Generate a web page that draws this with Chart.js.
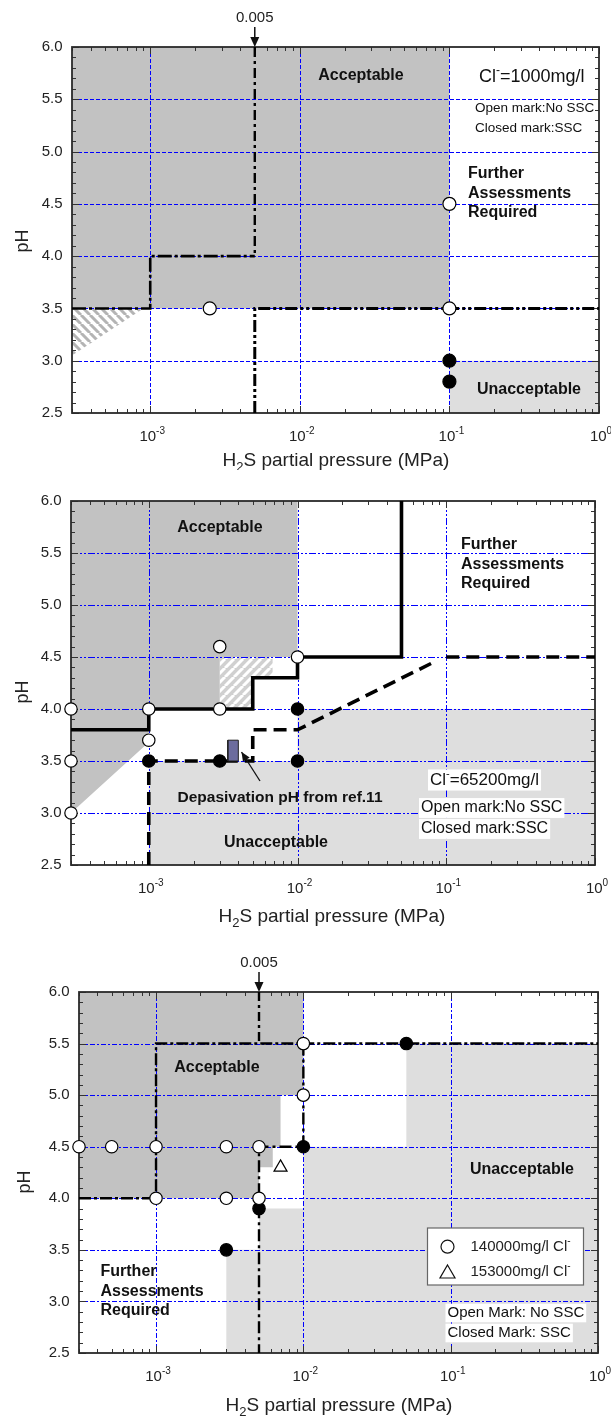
<!DOCTYPE html>
<html>
<head>
<meta charset="utf-8">
<script src="https://cdn.jsdelivr.net/npm/chart.js@4.4.0/dist/chart.umd.min.js"></script>
<style>
html, body { margin: 0; padding: 0; background: #fff; }
#wrap { position: relative; width: 611px; height: 1418px; overflow: hidden; }
canvas { position: absolute; left: 0; }
</style>
</head>
<body>
<div id="wrap">
  <canvas id="c1" width="611" height="470" style="top:0px"></canvas>
  <canvas id="c2" width="611" height="470" style="top:470px"></canvas>
  <canvas id="c3" width="611" height="478" style="top:940px"></canvas>
</div>
<script>
// Axis ticks shared by the three panels
const xDecades = [-3, -2, -1, 0];
const yTicks = [2.5, 3.0, 3.5, 4.0, 4.5, 5.0, 5.5, 6.0];
const yGrid = [3.0, 3.5, 4.0, 4.5, 5.0, 5.5];
const xGrid = [1e-3, 1e-2, 1e-1];

// Panel 1: Cl- = 1000 mg/l
const c1Open = [{x: 0.0025, y: 3.5}, {x: 0.1, y: 4.5}, {x: 0.1, y: 3.5}];
const c1Closed = [{x: 0.1, y: 3.0}, {x: 0.1, y: 2.8}];
const c1Upper = [{x: 3e-4, y: 3.5}, {x: 1e-3, y: 3.5}, {x: 1e-3, y: 4.0}, {x: 5e-3, y: 4.0}];
const c1Vert = [{x: 5e-3, y: 6.0}, {x: 5e-3, y: 4.0}];
const c1Lower = [{x: 5e-3, y: 2.5}, {x: 5e-3, y: 3.5}, {x: 1, y: 3.5}];
const c1Accept = [{x: 3e-4, y: 3.5}, {x: 0.1, y: 3.5}, {x: 0.1, y: 6.0}, {x: 3e-4, y: 6.0}];
const c1Unaccept = [{x: 0.1, y: 2.5}, {x: 1, y: 2.5}, {x: 1, y: 3.0}, {x: 0.1, y: 3.0}];
const c1Hatch = [{x: 3e-4, y: 3.5}, {x: 9e-4, y: 3.5}, {x: 3e-4, y: 3.05}];

// Panel 2: Cl- = 65200 mg/l
const c2Open = [{x: 3e-4, y: 4.0}, {x: 1e-3, y: 4.0}, {x: 3e-3, y: 4.0}, {x: 3e-3, y: 4.6},
  {x: 1e-2, y: 4.5}, {x: 1e-3, y: 3.7}, {x: 3e-4, y: 3.5}, {x: 3e-4, y: 3.0}];
const c2Closed = [{x: 1e-3, y: 3.5}, {x: 3e-3, y: 3.5}, {x: 1e-2, y: 3.5}, {x: 1e-2, y: 4.0}];
const c2Solid = [{x: 3e-4, y: 3.8}, {x: 1e-3, y: 3.8}, {x: 1e-3, y: 4.0}, {x: 5e-3, y: 4.0},
  {x: 5e-3, y: 4.3}, {x: 1e-2, y: 4.3}, {x: 1e-2, y: 4.5}, {x: 5e-2, y: 4.5}, {x: 5e-2, y: 6.0}];
const c2Dashed = [{x: 1e-3, y: 2.5}, {x: 1e-3, y: 3.5}, {x: 5e-3, y: 3.5}, {x: 5e-3, y: 3.8},
  {x: 1e-2, y: 3.8}, {x: 0.085, y: 4.46}];
const c2DashedRight = [{x: 0.1, y: 4.5}, {x: 1, y: 4.5}];
const c2Accept = [{x: 3e-4, y: 6.0}, {x: 1e-2, y: 6.0}, {x: 1e-2, y: 4.5}, {x: 3e-3, y: 4.5},
  {x: 3e-3, y: 4.0}, {x: 1e-3, y: 4.0}, {x: 1e-3, y: 3.68}, {x: 3e-4, y: 3.0}];
const c2Unaccept = [{x: 1e-3, y: 2.5}, {x: 1e-3, y: 3.5}, {x: 1e-2, y: 3.5}, {x: 1e-2, y: 4.0},
  {x: 1, y: 4.0}, {x: 1, y: 2.5}];
const c2Hatch = [{x: 3e-3, y: 4.0}, {x: 5e-3, y: 4.0}, {x: 5e-3, y: 4.3}, {x: 6.8e-3, y: 4.3},
  {x: 6.8e-3, y: 4.5}, {x: 3e-3, y: 4.5}];
const c2Depass = [{x: 3.4e-3, y: 3.5}, {x: 4.0e-3, y: 3.5}, {x: 4.0e-3, y: 3.7}, {x: 3.4e-3, y: 3.7}, {x: 3.4e-3, y: 3.5}];

// Panel 3: Cl- = 140000 / 153000 mg/l
const c3Open = [{x: 3e-4, y: 4.5}, {x: 5e-4, y: 4.5}, {x: 1e-3, y: 4.5}, {x: 3e-3, y: 4.5},
  {x: 5e-3, y: 4.5}, {x: 1e-2, y: 5.5}, {x: 1e-2, y: 5.0}, {x: 1e-3, y: 4.0},
  {x: 3e-3, y: 4.0}, {x: 5e-3, y: 4.0}];
const c3Closed = [{x: 5e-2, y: 5.5}, {x: 1e-2, y: 4.5}, {x: 5e-3, y: 3.9}, {x: 3e-3, y: 3.5}];
const c3Triangle = [{x: 7e-3, y: 4.3}];
const c3Top = [{x: 5e-3, y: 6.0}, {x: 5e-3, y: 5.5}];
const c3Upper = [{x: 3e-4, y: 4.0}, {x: 1e-3, y: 4.0}, {x: 1e-3, y: 5.5}, {x: 1, y: 5.5}];
const c3Lower = [{x: 1e-2, y: 5.5}, {x: 1e-2, y: 4.5}, {x: 5e-3, y: 4.5}, {x: 5e-3, y: 2.5}];
const c3Accept = [{x: 3e-4, y: 6.0}, {x: 1e-2, y: 6.0}, {x: 1e-2, y: 5.0}, {x: 7e-3, y: 5.0},
  {x: 7e-3, y: 4.5}, {x: 6.2e-3, y: 4.5}, {x: 6.2e-3, y: 4.3}, {x: 5e-3, y: 4.3},
  {x: 5e-3, y: 4.0}, {x: 3e-4, y: 4.0}];
const c3Unaccept = [{x: 3e-3, y: 2.5}, {x: 3e-3, y: 3.5}, {x: 5e-3, y: 3.5}, {x: 5e-3, y: 3.9},
  {x: 1e-2, y: 3.9}, {x: 1e-2, y: 4.5}, {x: 5e-2, y: 4.5}, {x: 5e-2, y: 5.5},
  {x: 1, y: 5.5}, {x: 1, y: 2.5}];

const FONT = "'Liberation Sans', Arial, Helvetica, sans-serif";
const DARK = '#c2c2c2';
const LIGHT = '#dedede';

function stripes(ctx, bg, fg, dir, size, width) {
    const c = document.createElement('canvas');
    c.width = c.height = size;
    const g = c.getContext('2d');
    g.fillStyle = bg;
    g.fillRect(0, 0, size, size);
    g.strokeStyle = fg;
    g.lineWidth = width;
    g.beginPath();
    for (let k = -1; k <= 1; k++) {
        if (dir === '/') {
            g.moveTo(k * size, size); g.lineTo(k * size + size, 0);
        } else {
            g.moveTo(k * size, 0); g.lineTo(k * size + size, size);
        }
    }
    g.stroke();
    return ctx.createPattern(c, 'repeat');
}

// text with ^{sup} and _{sub} parts, y is the vertical middle
function drawRich(ctx, str, x, y, o) {
    const size = o.size || 15;
    const weight = o.bold ? 'bold ' : '';
    const parts = [];
    const re = /\^\{([^}]*)\}|_\{([^}]*)\}/g;
    let last = 0, m;
    while ((m = re.exec(str))) {
        if (m.index > last) parts.push({t: str.slice(last, m.index), k: 0});
        parts.push({t: m[1] !== undefined ? m[1] : m[2], k: m[1] !== undefined ? 1 : -1});
        last = re.lastIndex;
    }
    if (last < str.length) parts.push({t: str.slice(last), k: 0});
    const fontFor = p => weight + (p.k ? Math.round(size * 0.66) : size) + 'px ' + FONT;
    let w = 0;
    parts.forEach(p => { ctx.font = fontFor(p); p.w = ctx.measureText(p.t).width; w += p.w; });
    let sx = o.align === 'center' ? x - w / 2 : (o.align === 'right' ? x - w : x);
    if (o.bg) {
        ctx.fillStyle = o.bg;
        ctx.fillRect(sx - 2, y - size * 0.62, w + 4, size * 1.24);
    }
    ctx.fillStyle = o.color || '#111';
    ctx.textBaseline = 'middle';
    ctx.textAlign = 'left';
    parts.forEach(p => {
        ctx.font = fontFor(p);
        const dy = p.k === 1 ? -size * 0.36 : (p.k === -1 ? size * 0.32 : 0);
        ctx.fillText(p.t, sx, y + dy);
        sx += p.w;
    });
}

function arrowHead(ctx, tx, ty, fx, fy, len, half) {
    const a = Math.atan2(ty - fy, tx - fx);
    ctx.beginPath();
    ctx.moveTo(tx, ty);
    ctx.lineTo(tx - len * Math.cos(a) + half * Math.sin(a), ty - len * Math.sin(a) - half * Math.cos(a));
    ctx.lineTo(tx - len * Math.cos(a) - half * Math.sin(a), ty - len * Math.sin(a) + half * Math.cos(a));
    ctx.closePath();
    ctx.fill();
}

function drawFrame(chart, cfg) {
    const ctx = chart.ctx;
    const a = chart.chartArea;
    const xs = chart.scales.x, ys = chart.scales.y;
    ctx.save();
    // blue grid
    ctx.strokeStyle = '#0000ff';
    ctx.lineWidth = 1;
    ctx.setLineDash(cfg.gridDash);
    xGrid.forEach(v => {
        const px = Math.round(xs.getPixelForValue(v)) + 0.5;
        ctx.beginPath(); ctx.moveTo(px, a.top); ctx.lineTo(px, a.bottom); ctx.stroke();
    });
    yGrid.forEach(v => {
        const py = Math.round(ys.getPixelForValue(v)) + 0.5;
        ctx.beginPath(); ctx.moveTo(a.left, py); ctx.lineTo(a.right, py); ctx.stroke();
    });
    ctx.setLineDash([]);
    // ticks
    ctx.strokeStyle = '#333';
    ctx.lineWidth = 1;
    ctx.beginPath();
    for (let d = -4; d <= 0; d++) {
        for (let k = 1; k <= 9; k++) {
            const v = k * Math.pow(10, d);
            if (v < xs.min * 0.999 || v > xs.max * 1.001) continue;
            const px = Math.round(xs.getPixelForValue(v)) + 0.5;
            const len = k === 1 ? 7 : 4;
            ctx.moveTo(px, a.bottom); ctx.lineTo(px, a.bottom - len);
            ctx.moveTo(px, a.top); ctx.lineTo(px, a.top + len);
        }
    }
    for (let i = 25; i <= 60; i++) {
        const py = Math.round(ys.getPixelForValue(i / 10)) + 0.5;
        const len = i % 5 === 0 ? 7 : 4;
        ctx.moveTo(a.left, py); ctx.lineTo(a.left + len, py);
        ctx.moveTo(a.right, py); ctx.lineTo(a.right - len, py);
    }
    ctx.stroke();
    ctx.strokeStyle = '#2a2a2a';
    ctx.lineWidth = 1.8;
    ctx.strokeRect(a.left, a.top, a.right - a.left, a.bottom - a.top);
    // tick labels
    yTicks.forEach(v => {
        drawRich(ctx, v.toFixed(1), a.left - 9.5, ys.getPixelForValue(v), {size: 15, align: 'right', color: '#222'});
    });
    xDecades.forEach(d => {
        drawRich(ctx, '10^{' + d + '}', xs.getPixelForValue(Math.pow(10, d)) + 2, a.bottom + 24, {size: 15, align: 'center', color: '#222'});
    });
    ctx.restore();
}

function makeChart(id, cfg) {
    const canvas = document.getElementById(id);
    const ctx = canvas.getContext('2d');
    const datasets = cfg.build(ctx);
    const decor = {
        id: 'decor',
        afterDatasetDraw(chart, args) {
            if (chart.data.datasets[args.index].gridAfter) drawFrame(chart, cfg);
        },
        afterDraw(chart) {
            const c = chart.ctx;
            const a = chart.chartArea;
            const xs = chart.scales.x;
            c.save();
            cfg.texts.forEach(t => drawRich(c, t.s, t.x, t.y - cfg.top, t));
            // axis titles
            drawRich(c, 'H_{2}S partial pressure (MPa)', cfg.xTitle[0], cfg.xTitle[1] - cfg.top, {size: 19, align: 'center', color: '#222'});
            c.translate(cfg.yTitle[0], cfg.yTitle[1] - cfg.top);
            c.rotate(-Math.PI / 2);
            drawRich(c, 'pH', 0, 0, {size: 18, align: 'center', color: '#222'});
            c.setTransform(1, 0, 0, 1, 0, 0);
            c.fillStyle = '#111';
            c.strokeStyle = '#111';
            if (cfg.marker005) {
                const px = xs.getPixelForValue(0.005);
                drawRich(c, '0.005', px, cfg.marker005 - cfg.top, {size: 15, align: 'center', color: '#222'});
                c.lineWidth = 1.5;
                c.beginPath(); c.moveTo(px, cfg.marker005 - cfg.top + 9); c.lineTo(px, a.top - 6); c.stroke();
                c.fillStyle = '#111';
                arrowHead(c, px, a.top, px, a.top - 20, 10, 4.5);
            }
            if (cfg.pointer) {
                const p = cfg.pointer;
                c.lineWidth = 1.3;
                c.beginPath(); c.moveTo(p[0], p[1] - cfg.top); c.lineTo(p[2], p[3] - cfg.top); c.stroke();
                arrowHead(c, p[2], p[3] - cfg.top, p[0], p[1] - cfg.top, 9, 4);
            }
            if (cfg.legend) {
                const L = cfg.legend;
                c.fillStyle = '#fff';
                c.fillRect(L.x, L.y - cfg.top, L.w, L.h);
                c.strokeStyle = '#666';
                c.lineWidth = 1.2;
                c.strokeRect(L.x, L.y - cfg.top, L.w, L.h);
                L.items.forEach(it => {
                    const cy = it.y - cfg.top;
                    c.strokeStyle = '#111';
                    c.fillStyle = '#fff';
                    c.lineWidth = 1.2;
                    c.beginPath();
                    if (it.sym === 'circle') {
                        c.arc(L.sx, cy, 6.5, 0, Math.PI * 2);
                    } else {
                        c.moveTo(L.sx, cy - 7); c.lineTo(L.sx + 7.5, cy + 6); c.lineTo(L.sx - 7.5, cy + 6); c.closePath();
                    }
                    c.fill(); c.stroke();
                    drawRich(c, it.s, L.tx, cy, {size: 15, color: '#222'});
                });
            }
            c.restore();
        }
    };
    return new Chart(ctx, {
        type: 'scatter',
        data: {datasets},
        options: {
            responsive: false,
            animation: false,
            events: [],
            layout: {padding: cfg.pad},
            plugins: {legend: {display: false}, tooltip: {enabled: false}},
            scales: {
                x: {type: 'logarithmic', min: 3e-4, max: 1, display: false},
                y: {type: 'linear', min: 2.5, max: 6.0, display: false}
            }
        },
        plugins: [decor]
    });
}

function fillSet(data, color, grid) {
    return {type: 'line', data, showLine: true, fill: 'shape', backgroundColor: color,
        borderWidth: 0, pointRadius: 0, order: 3, gridAfter: !!grid};
}
function lineSet(data, width, dash, color) {
    return {type: 'line', data, showLine: true, fill: false, borderColor: color || '#000',
        borderWidth: width, borderDash: dash, borderCapStyle: 'butt', borderJoinStyle: 'miter',
        pointRadius: 0, order: 2};
}
function pointSet(data, style, bg, r) {
    return {type: 'scatter', data, showLine: false, pointStyle: style, pointRadius: r,
        pointBackgroundColor: bg, pointBorderColor: '#000', pointBorderWidth: 1.2, order: 1, clip: false};
}

const further = (x, y0, gap) => [
    {s: 'Further', x, y: y0, size: 16, bold: true},
    {s: 'Assessments', x, y: y0 + gap, size: 16, bold: true},
    {s: 'Required', x, y: y0 + 2 * gap, size: 16, bold: true}
];

makeChart('c1', {
    top: 0,
    pad: {left: 72, right: 12, top: 47, bottom: 57},
    gridDash: [4, 2],
    marker005: 18,
    xTitle: [336, 461],
    yTitle: [23, 241],
    build: ctx => [
        fillSet(c1Accept, DARK, true),
        fillSet(c1Unaccept, LIGHT),
        fillSet(c1Hatch, stripes(ctx, '#ffffff', '#b4b4b4', '\\', 9, 3)),
        lineSet(c1Upper, 2.6, [14, 3, 3, 3]),
        lineSet(c1Vert, 2.4, [10, 4, 3, 4]),
        lineSet(c1Lower, 3, [12, 3, 3, 3, 3, 3]),
        pointSet(c1Open, 'circle', '#fff', 6.5),
        pointSet(c1Closed, 'circle', '#000', 6.5)
    ],
    texts: [
        {s: 'Acceptable', x: 361, y: 76, size: 16, bold: true, align: 'center'},
        {s: 'Cl^{-}=1000mg/l', x: 479, y: 77, size: 18},
        {s: 'Open mark:No SSC', x: 475, y: 108, size: 13.5},
        {s: 'Closed mark:SSC', x: 475, y: 128, size: 13.5},
        ...further(468, 174, 19.5),
        {s: 'Unacceptable', x: 529, y: 390, size: 16, bold: true, align: 'center'}
    ]
});

makeChart('c2', {
    top: 470,
    pad: {left: 71, right: 16, top: 31, bottom: 75},
    gridDash: [7, 2, 2, 2, 2, 2],
    xTitle: [332, 917],
    yTitle: [23, 692],
    pointer: [260, 781, 241.5, 752],
    build: ctx => [
        fillSet(c2Accept, DARK, true),
        fillSet(c2Unaccept, LIGHT),
        fillSet(c2Hatch, stripes(ctx, '#d0d0d0', '#ffffff', '/', 9, 3)),
        {type: 'line', data: c2Depass, showLine: true, fill: 'shape', backgroundColor: '#6c6c9e',
            borderColor: '#222', borderWidth: 1, pointRadius: 0, order: 0},
        lineSet(c2Solid, 3.6, []),
        lineSet(c2Dashed, 3.6, [13, 7]),
        lineSet(c2DashedRight, 3.6, [13, 7]),
        pointSet(c2Open, 'circle', '#fff', 6.2),
        pointSet(c2Closed, 'circle', '#000', 6.2)
    ],
    texts: [
        {s: 'Acceptable', x: 220, y: 528, size: 16, bold: true, align: 'center'},
        ...further(461, 545, 19.2),
        {s: 'Cl^{-}=65200mg/l', x: 430, y: 780, size: 17, bg: '#fff'},
        {s: 'Open mark:No SSC', x: 421, y: 808, size: 16, bg: '#fff'},
        {s: 'Closed mark:SSC', x: 421, y: 829, size: 16, bg: '#fff'},
        {s: 'Depasivation pH from ref.11', x: 280, y: 798, size: 15.5, bold: true, align: 'center'},
        {s: 'Unacceptable', x: 276, y: 843, size: 16, bold: true, align: 'center'}
    ]
});

makeChart('c3', {
    top: 940,
    pad: {left: 79, right: 13, top: 52, bottom: 65},
    gridDash: [5, 2, 2, 2],
    marker005: 963,
    xTitle: [339, 1406],
    yTitle: [25, 1182],
    build: ctx => [
        fillSet(c3Accept, DARK, true),
        fillSet(c3Unaccept, LIGHT),
        lineSet(c3Top, 2.4, [9, 4, 3, 4]),
        lineSet(c3Upper, 2.4, [12, 3, 3, 3]),
        lineSet(c3Lower, 2.4, [12, 4, 3, 4]),
        pointSet(c3Open, 'circle', '#fff', 6.2),
        pointSet(c3Closed, 'circle', '#000', 6.2),
        pointSet(c3Triangle, 'triangle', '#fff', 7.5)
    ],
    texts: [
        {s: 'Acceptable', x: 217, y: 1068, size: 16, bold: true, align: 'center'},
        {s: 'Unacceptable', x: 522, y: 1170, size: 16, bold: true, align: 'center'},
        ...further(100.5, 1272, 19.3),
        {s: 'Open Mark: No SSC', x: 447.5, y: 1313, size: 15, bg: '#fff'},
        {s: 'Closed Mark: SSC', x: 447.5, y: 1333, size: 15, bg: '#fff'}
    ],
    legend: {
        x: 427.5, y: 1228, w: 156, h: 57, sx: 447.5, tx: 470.5,
        items: [
            {sym: 'circle', s: '140000mg/l Cl^{-}', y: 1246.7},
            {sym: 'triangle', s: '153000mg/l Cl^{-}', y: 1272}
        ]
    }
});
</script>
</body>
</html>
